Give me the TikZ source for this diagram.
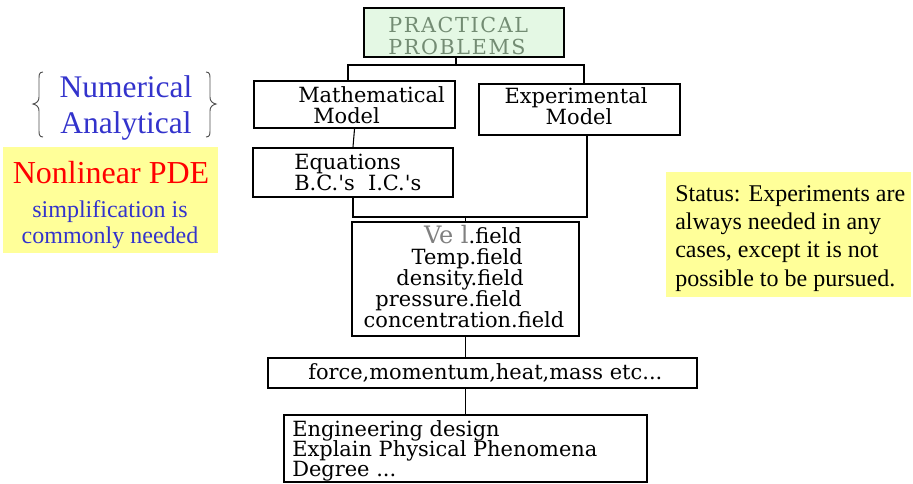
\documentclass[tikz,border=0pt]{standalone}
\usepackage{fontspec}
\setmainfont{Liberation Serif}
\newfontfamily\flowfont{DejaVu Serif}
\newfontfamily\probfont[LetterSpace=8]{DejaVu Serif}
\usetikzlibrary{fit}
\definecolor{nblue}{RGB}{51,51,204}
\definecolor{pyellow}{RGB}{255,255,153}
\definecolor{pgreen}{RGB}{228,248,228}
\definecolor{ptext}{RGB}{115,140,115}
\definecolor{bracegray}{RGB}{80,80,80}
\begin{document}
\begin{tikzpicture}[x=0.75pt,y=-0.75pt,
  box/.style={draw, line width=1.6pt, inner sep=0pt},
  wire/.style={draw, line width=0.8pt},
  flow/.style={font=\flowfont\fontsize{15.7}{15.5}\selectfont, inner sep=0pt},
  ptxt/.style={font=\probfont\fontsize{15.5}{15}\selectfont, text=ptext, inner sep=0pt},
  bigblue/.style={font=\fontsize{23.6}{27}\selectfont, text=nblue, inner sep=0pt},
  note/.style={font=\fontsize{18}{21.2}\selectfont, inner sep=0pt},
  hl/.style={fill=pyellow, inner sep=0pt}]
\useasboundingbox (0,0) rectangle (913,483);

% ---- flowchart boxes ----
\node[box, line width=2.2pt, fill=pgreen, fit={(364,8)(564,57)}] (prob) {};
\node[ptxt, anchor=base west] (probA) at (388,32) {PRACTICAL};
\node[ptxt, anchor=base west] (probB) at (388,54) {PROBLEMS};

\node[box, fit={(254,81)(455,128)}] (math) {};
\node[flow, anchor=base west] (mathA) at (298,102) {Mathematical};
\node[flow, anchor=base west] (mathB) at (313,123) {Model};

\node[box, fit={(479,84)(680,135)}] (exp) {};
\node[flow, anchor=base] (expA) at (576,103) {Experimental};
\node[flow, anchor=base] (expB) at (579,124) {Model};

\node[box, fit={(253,148)(453,197)}] (eq) {};
\node[flow, anchor=base west] (eqA) at (294,169) {Equations};
\node[flow, anchor=base west] (eqB) at (294,190) {B.C.'s\ \ I.C.'s};

\node[box, fit={(352,222)(579,336)}] (vel) {};
\node[flow, anchor=base east] (velA) at (522,243) {{\color{gray}\fontsize{18}{15.5}\selectfont Ve l}.field};
\node[flow, anchor=base east] (velB) at (523,264) {Temp.field};
\node[flow, anchor=base east] (velC) at (524,285) {density.field};
\node[flow, anchor=base east] (velD) at (522,306) {pressure.field};
\node[flow, anchor=base] (velE) at (464,327) {concentration.field};

\node[box, fit={(268,358)(697,388)}] (force) {};
\node[flow, anchor=base west] (forceT) at (308,379) {force,momentum,heat,mass etc...};

\node[box, fit={(284,415)(647,482)}] (eng) {};
\node[flow, anchor=base west] (engA) at (292,436) {Engineering design};
\node[flow, anchor=base west] (engB) at (292,456) {Explain Physical Phenomena};
\node[flow, anchor=base west] (engC) at (292,476) {Degree ...};

% ---- connectors ----
\coordinate (jt) at (456,65);
\coordinate (jl) at (348,65);
\coordinate (jr) at (584,65);
\coordinate (jb) at (587,217);
\draw[wire] (prob.south -| jt) -- (jt);
\draw[wire] (jl |- math.north) -- (jl) -- (jr) -- (jr |- exp.north);
\draw[wire] (math.south) -- (eq.north);
\draw[wire] (eq.south) -- (eq.south |- jb) -- (jb) -- (exp.south -| jb);
\draw[wire] (vel.north |- jb) -- (vel.north);
\draw[wire] (vel.south) -- (vel.south |- force.north);
\draw[wire] (vel.south |- force.south) -- (vel.south |- eng.north);

% ---- left annotations ----
\draw[bracegray, line width=0.7pt]
  (43,72) .. controls (39,72) and (39,75) .. (39,79) -- (39,97)
  .. controls (39,101) and (37,103) .. (33,104)
  .. controls (37,105) and (39,107) .. (39,111) -- (39,130)
  .. controls (39,134) and (39,137) .. (43,137);
\draw[bracegray, line width=0.7pt]
  (206,72) .. controls (210,72) and (210,75) .. (210,79) -- (210,97)
  .. controls (210,101) and (212,103) .. (216,104)
  .. controls (212,105) and (210,107) .. (210,111) -- (210,130)
  .. controls (210,134) and (210,137) .. (206,137);
\node[bigblue, anchor=base] (num) at (126,97) {Numerical};
\node[bigblue, anchor=base] (ana) at (126,133) {Analytical};

\node[hl, fit={(3,147)(218,253)}] (lbox) {};
\node[font=\fontsize{24}{27}\selectfont, text=red, inner sep=0pt, anchor=base] (nlpde) at (111,183) {Nonlinear PDE};
\node[font=\fontsize{18}{20}\selectfont, text=nblue, inner sep=0pt, anchor=base] (simp) at (110,217) {simplification is};
\node[font=\fontsize{18}{20}\selectfont, text=nblue, inner sep=0pt, anchor=base] (comm) at (110,243) {commonly needed};

% ---- right note ----
\node[hl, fit={(666,172)(911,297)}] (rbox) {};
\node[note, anchor=base west, align=left] (status) at (675,286)
  {Status: Experiments are\\always needed in any\\cases, except it is not\\possible to be pursued.};
\end{tikzpicture}
\end{document}
